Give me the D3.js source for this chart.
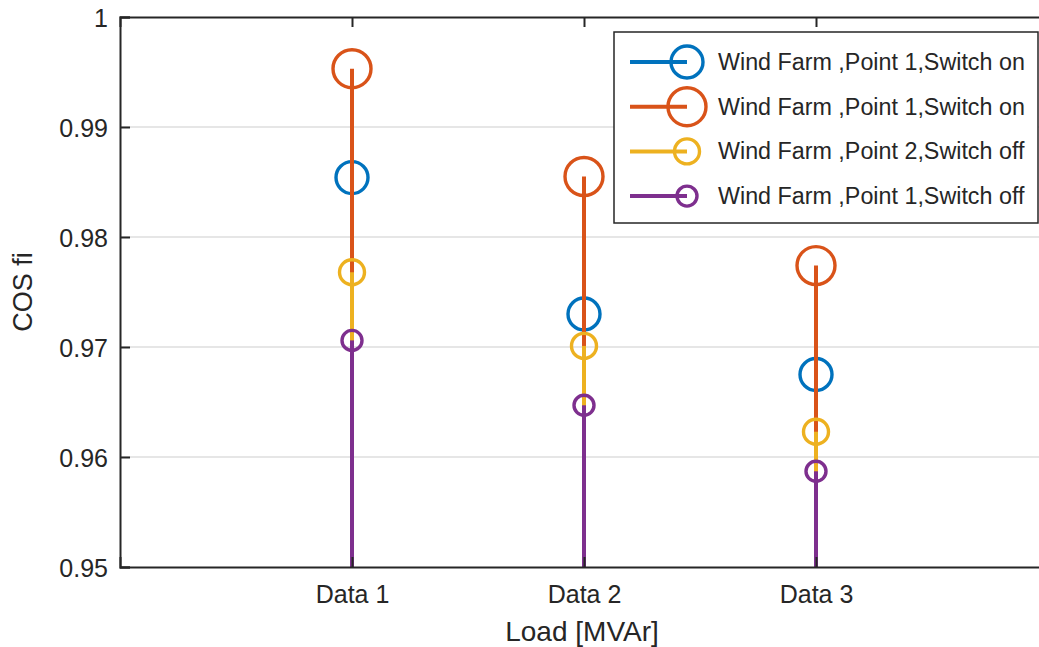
<!DOCTYPE html>
<html lang="en">
	<head>
		<meta charset="utf-8">
		<title>COS fi stem chart</title>
		<script src="https://d3js.org/d3.v7.min.js"></script>
		<style type="text/css">
body { margin: 0; background: #fff; }
text { font-family: "Liberation Sans", Arial, Helvetica, sans-serif; fill: #262626; }
		</style>
	</head>
	<body>
<div id="chart"></div>
		<script type="text/javascript">
// data
const categories = ["Data 1", "Data 2", "Data 3"];
const seriesNames = ["Wind Farm ,Point 1,Switch on", "Wind Farm ,Point 1,Switch on",
                     "Wind Farm ,Point 2,Switch off", "Wind Farm ,Point 1,Switch off"];
const blueValues   = [0.9854, 0.9730, 0.9675];
const orangeValues = [0.9953, 0.9855, 0.9774];
const yellowValues = [0.9768, 0.9701, 0.9623];
const purpleValues = [0.9706, 0.9647, 0.9587];
const yTicks = [0.95, 0.96, 0.97, 0.98, 0.99, 1];

const colors = ["#0072BD", "#D95319", "#EDB120", "#7E2F8E"];
const markerR = [16, 19, 12.5, 10];
const allValues = [blueValues, orangeValues, yellowValues, purpleValues];

//Width and height
const w = 1039;
const h = 647;
const padLeft = 120, padTop = 17, padBottom = 567, padRight = 1048;

const xScale = d3.scaleLinear().domain([0, 4]).range([padLeft, padRight]);
const yScale = d3.scaleLinear().domain([0.95, 1]).range([padBottom, padTop]);

const svg = d3.select("div#chart")
  .append("svg")
  .attr("width", w)
  .attr("height", h);

// grid lines
svg.append("g")
  .selectAll("line")
  .data(yTicks.slice(1, -1))
  .enter()
  .append("line")
  .attr("x1", padLeft).attr("x2", padRight)
  .attr("y1", d => yScale(d)).attr("y2", d => yScale(d))
  .attr("stroke", "#dedede")
  .attr("stroke-width", 1.5);

// stems + markers, drawn series by series
allValues.forEach(function (vals, i) {
  const g = svg.append("g");
  vals.forEach(function (v, j) {
    g.append("circle")
      .attr("cx", xScale(j + 1))
      .attr("cy", yScale(v))
      .attr("r", markerR[i])
      .attr("fill", "none")
      .attr("stroke", colors[i])
      .attr("stroke-width", 3.4);
    g.append("line")
      .attr("x1", xScale(j + 1)).attr("x2", xScale(j + 1))
      .attr("y1", yScale(0.95)).attr("y2", yScale(v))
      .attr("stroke", colors[i])
      .attr("stroke-width", 4);
  });
});

// axes
const yAxis = d3.axisLeft(yScale).tickValues(yTicks).tickSize(-10).tickPadding(12)
  .tickFormat(d => d === 1 ? "1" : d3.format(".2f")(d));
const yG = svg.append("g")
  .attr("transform", "translate(" + padLeft + ",0)")
  .call(yAxis);

const xAxis = d3.axisBottom(xScale).tickValues([1, 2, 3]).tickSize(-10).tickPadding(18)
  .tickFormat(d => categories[d - 1]);
const xG = svg.append("g")
  .attr("transform", "translate(0," + padBottom + ")")
  .call(xAxis);

const xTop = d3.axisTop(xScale).tickValues([1, 2, 3]).tickSize(-10).tickFormat("");
const xtG = svg.append("g")
  .attr("transform", "translate(0," + padTop + ")")
  .call(xTop);

[yG, xG, xtG].forEach(function (g) {
  g.select(".domain").attr("stroke", "#262626").attr("stroke-width", 2);
  g.selectAll(".tick line").attr("stroke", "#262626").attr("stroke-width", 2);
  g.selectAll("text").style("font-size", "25px").attr("fill", "#262626");
});
yG.selectAll(".tick text").attr("dy", "0.36em");

// axis labels
svg.append("text")
  .attr("x", (padLeft + padRight) / 2 - 2)
  .attr("y", 641)
  .attr("text-anchor", "middle")
  .style("font-size", "28px")
  .text("Load [MVAr]");

svg.append("text")
  .attr("transform", "translate(32," + ((padTop + padBottom) / 2) + ") rotate(-90)")
  .attr("text-anchor", "middle")
  .style("font-size", "27px")
  .text("COS fi");

// legend
const lg = svg.append("g");
lg.append("rect")
  .attr("x", 614).attr("y", 32)
  .attr("width", 424).attr("height", 191)
  .attr("fill", "#fff")
  .attr("stroke", "#262626")
  .attr("stroke-width", 1.5);

seriesNames.forEach(function (name, i) {
  const y = 62 + i * 44.7;
  lg.append("line")
    .attr("x1", 630).attr("x2", 687)
    .attr("y1", y).attr("y2", y)
    .attr("stroke", colors[i]).attr("stroke-width", 4);
  lg.append("circle")
    .attr("cx", 687).attr("cy", y).attr("r", markerR[i])
    .attr("fill", "none").attr("stroke", colors[i]).attr("stroke-width", 3.4);
  lg.append("text")
    .attr("x", 718).attr("y", y + 8)
    .style("font-size", "23.3px")
    .attr("fill", "#000")
    .text(name);
});
		</script>
	</body>
</html>
